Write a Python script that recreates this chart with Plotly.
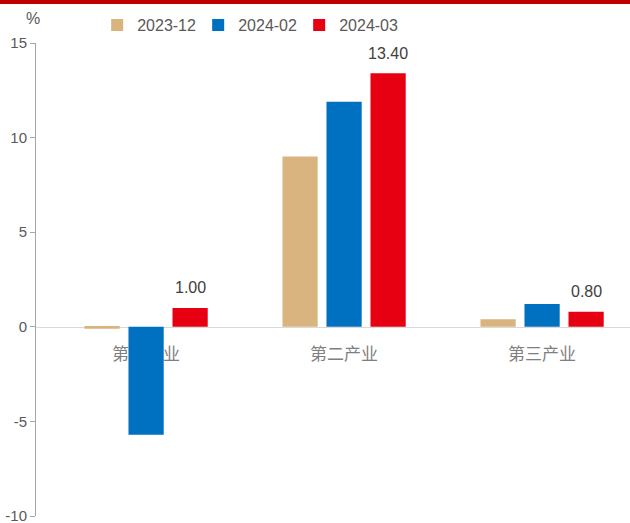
import plotly.graph_objects as go

categories = ["第一产业", "第二产业", "第三产业"]
series_names = ["2023-12", "2024-02", "2024-03"]
v_2023_12 = [-0.1, 9.0, 0.4]
v_2024_02 = [-5.7, 11.9, 1.2]
v_2024_03 = [1.00, 13.40, 0.80]
colors = ["#D9B47E", "#0070C0", "#E60012"]
y_ticks = [-10, -5, 0, 5, 10, 15]
y_tick_text = ["-10", "-5", "0", "5", "10", "15"]

fig = go.Figure()
for name, vals, col in zip(series_names, [v_2023_12, v_2024_02, v_2024_03], colors):
    fig.add_trace(go.Bar(x=categories, y=vals, name=name, marker_color=col, marker_line_width=0))

for c, v in zip(categories, v_2024_03):
    fig.add_annotation(x=c, y=v, text=f"{v:.2f}", showarrow=False, xshift=44, yshift=20,
                       font=dict(size=16, color="#404040", family="Liberation Sans"))

fig.add_annotation(xref="paper", yref="paper", x=0, y=1.0, yshift=25, xshift=-3, text="%",
                   showarrow=False, xanchor="center", yanchor="middle",
                   font=dict(size=16, color="#595959", family="Liberation Sans"))

fig.add_shape(type="line", xref="paper", yref="paper", x0=-0.1, x1=1.1,
              y0=1 + 41/473, y1=1 + 41/473, line=dict(color="#C00000", width=4))

fig.update_layout(
    width=630, height=523,
    margin=dict(l=36, r=0, t=43, b=7),
    paper_bgcolor="white", plot_bgcolor="white",
    barmode="group", bargap=0.333, bargroupgap=0.2,
    showlegend=True,
    legend=dict(orientation="h", x=0.103, y=1 + 18/473, xanchor="left", yanchor="middle",
                font=dict(size=16, color="#595959", family="Liberation Sans"),
                entrywidth=56, itemwidth=30,
                bgcolor="rgba(0,0,0,0)"),
    xaxis=dict(type="category", range=[-0.556, 2.444], anchor="free", position=(516-327)/473,
               showline=True, linecolor="#d9d9d9", linewidth=1, showgrid=False, automargin=False,
               ticks="", ticklabelstandoff=12, layer="below traces",
               tickfont=dict(size=17, color="#7f7f7f", family="Noto Sans CJK SC")),
    yaxis=dict(range=[-10, 15], tickvals=y_ticks, ticktext=y_tick_text, showgrid=False, zeroline=False,
               showline=True, linecolor="#a6a6a6", linewidth=1, automargin=False,
               ticks="outside", ticklen=5, tickcolor="#a6a6a6", ticklabeloverflow="allow",
               tickfont=dict(size=15, color="#595959", family="Liberation Sans")),
)

fig.write_html("out.html")
